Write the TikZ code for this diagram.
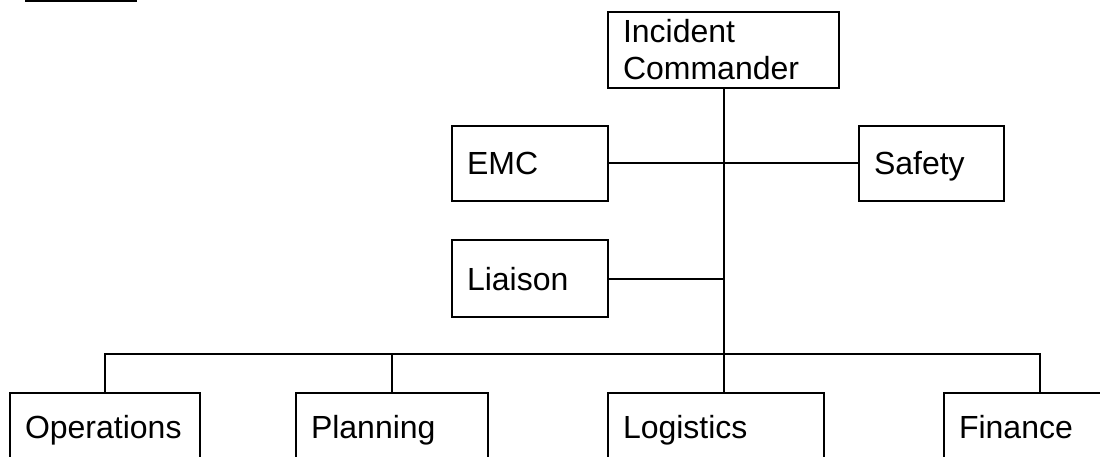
\documentclass[tikz,border=0pt]{standalone}
\usepackage{fontspec}
\setmainfont{Liberation Sans}
\usetikzlibrary{positioning}
\definecolor{ChartInk}{HTML}{000000}
\tikzset{
  chart/box/.style={
    draw=ChartInk, line width=2pt, fill=white, rectangle,
    anchor=north west, inner xsep=15pt, inner ysep=0pt,
    font=\fontsize{32}{37}\selectfont, align=left
  },
  chart/single/.style={chart/box, text height=23pt, text depth=0pt},
  chart/lower/.style={chart/box, text height=23pt, text depth=23pt, minimum height=90pt},
  chart/link/.style={line width=2pt, draw=ChartInk}
}

\begin{document}
\begin{tikzpicture}[x=1pt,y=-1pt]
  \useasboundingbox (0,0) rectangle (1100,457);
  \clip (0,0) rectangle (1100,457);
  % title rule
  \draw[chart/link] (25,1) -- (137,1);
  % command staff
  \node[chart/box,text width=201pt,minimum height=76pt] (commander) at (607,11)
    {Incident\\Commander};
  \node[chart/single,text width=126pt,minimum height=75pt] (emc) at (451,125) {EMC};
  \node[chart/single,text width=115pt,minimum height=75pt] (safety) at (858,125) {Safety};
  \node[chart/single,text width=126pt,minimum height=77pt] (liaison) at (451,239) {Liaison};
  % general staff
  \node[chart/lower,text width=160pt] (operations) at (9,392) {Operations};
  \node[chart/lower,text width=162pt] (planning) at (295,392) {Planning};
  \node[chart/lower,text width=186pt] (logistics) at (607,392) {Logistics};
  \node[chart/lower,text width=162pt] (finance) at (943,392) {Finance};
  \coordinate (bus) at (0,354);
  \draw[chart/link] (commander.south) -- (commander.south |- logistics.north);
  \draw[chart/link] (emc.east) -- (safety.west);
  \draw[chart/link] (liaison.east) -- (liaison.east -| commander.south);
  \draw[chart/link] (operations.north) |- (bus -| finance.north) -- (finance.north);
  \draw[chart/link] (planning.north) -- (planning.north |- bus);
\end{tikzpicture}
\end{document}
